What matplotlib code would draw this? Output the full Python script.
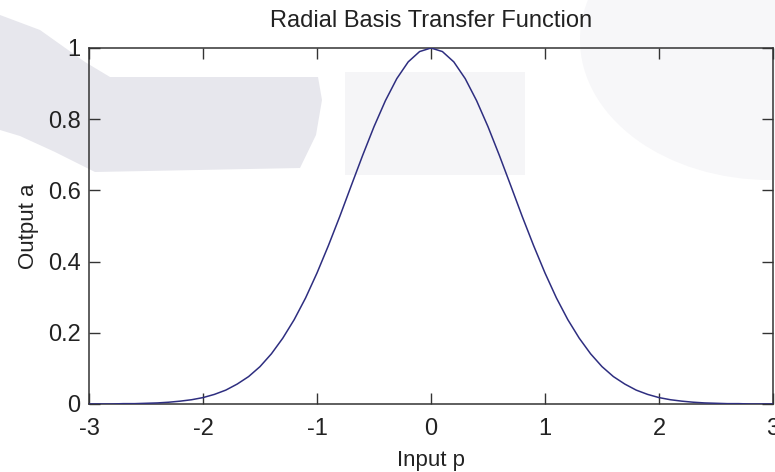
import matplotlib
matplotlib.use("Agg")
import matplotlib.pyplot as plt
import matplotlib.patches as mpatches

# ---------------------------------------------------------
# DATA
# ---------------------------------------------------------
INPUT_P = [
    -3.0, -2.9, -2.8, -2.7, -2.6, -2.5, -2.4, -2.3, -2.2, -2.1,
    -2.0, -1.9, -1.8, -1.7, -1.6, -1.5, -1.4, -1.3, -1.2, -1.1,
    -1.0, -0.9, -0.8, -0.7, -0.6, -0.5, -0.4, -0.3, -0.2, -0.1,
    0.0,
    0.1, 0.2, 0.3, 0.4, 0.5, 0.6, 0.7, 0.8, 0.9, 1.0,
    1.1, 1.2, 1.3, 1.4, 1.5, 1.6, 1.7, 1.8, 1.9, 2.0,
    2.1, 2.2, 2.3, 2.4, 2.5, 2.6, 2.7, 2.8, 2.9, 3.0,
]
OUTPUT_A = [
    0.000, 0.000, 0.000, 0.001, 0.001, 0.002, 0.003, 0.005, 0.008, 0.012,
    0.018, 0.027, 0.039, 0.056, 0.077, 0.105, 0.141, 0.185, 0.237, 0.298,
    0.368, 0.445, 0.527, 0.613, 0.698, 0.779, 0.852, 0.914, 0.961, 0.990,
    1.000,
    0.990, 0.961, 0.914, 0.852, 0.779, 0.698, 0.613, 0.527, 0.445, 0.368,
    0.298, 0.237, 0.185, 0.141, 0.105, 0.077, 0.056, 0.039, 0.027, 0.018,
    0.012, 0.008, 0.005, 0.003, 0.002, 0.001, 0.001, 0.000, 0.000, 0.000,
]
X_TICKS = [-3, -2, -1, 0, 1, 2, 3]
Y_TICKS = [0, 0.2, 0.4, 0.6, 0.8, 1]
Y_TICK_LABELS = ["0", "0.2", "0.4", "0.6", "0.8", "1"]

# ---------------------------------------------------------
# STYLE
# ---------------------------------------------------------
W, H = 775, 472
LINE_COLOR = "#2e2e80"
TEXT_COLOR = "#222222"
plt.rcParams["font.family"] = ["Liberation Sans", "DejaVu Sans"]

fig = plt.figure(figsize=(W / 100, H / 100), dpi=100)
fig.patch.set_facecolor("white")


def px(x, y):
    # pixel (top-left origin) -> figure fraction
    return (x / W, 1 - y / H)


# faint watermark shapes in the background
band = [px(0, 15), px(40, 30), px(85, 62), px(110, 77), px(318, 77),
        px(322, 100), px(316, 135), px(300, 168), px(95, 172),
        px(55, 152), px(20, 136), px(0, 130)]
fig.patches.append(mpatches.Polygon(band, closed=True, transform=fig.transFigure,
                                    facecolor="#e7e7ed", edgecolor="none", zorder=-2))
fig.patches.append(mpatches.Rectangle(px(345, 175), 180 / W, 103 / H,
                                      transform=fig.transFigure,
                                      facecolor="#f5f5f7", edgecolor="none", zorder=-2))
fig.patches.append(mpatches.Ellipse(px(770, 40), 380 / W, 280 / H,
                                    transform=fig.transFigure,
                                    facecolor="#f7f7f9", edgecolor="none", zorder=-2))

ax = fig.add_axes([89 / W, 1 - 404 / H, (773 - 89) / W, (404 - 48) / H])
ax.set_facecolor("none")

ax.plot(INPUT_P, OUTPUT_A, color=LINE_COLOR, linewidth=1.1, zorder=3)

ax.set_xlim(-3, 3)
ax.set_ylim(0, 1)
ax.set_xticks(X_TICKS)
ax.set_xticklabels([str(t) for t in X_TICKS])
ax.set_yticks(Y_TICKS)
ax.set_yticklabels(Y_TICK_LABELS)

ax.tick_params(direction="in", length=8, width=1, colors="#333333",
               labelcolor=TEXT_COLOR, labelsize=17, pad=6,
               top=True, right=True)
ax.tick_params(axis="x", pad=10)
for s in ax.spines.values():
    s.set_color("#333333")
    s.set_linewidth(1.1)

ax.set_title("Radial Basis Transfer Function", fontsize=17, color=TEXT_COLOR, pad=15)
ax.set_xlabel("Input p", fontsize=16, color=TEXT_COLOR, labelpad=7)
ax.set_ylabel("Output a", fontsize=16, color=TEXT_COLOR, labelpad=6)

fig.savefig("out.png", dpi=100)
